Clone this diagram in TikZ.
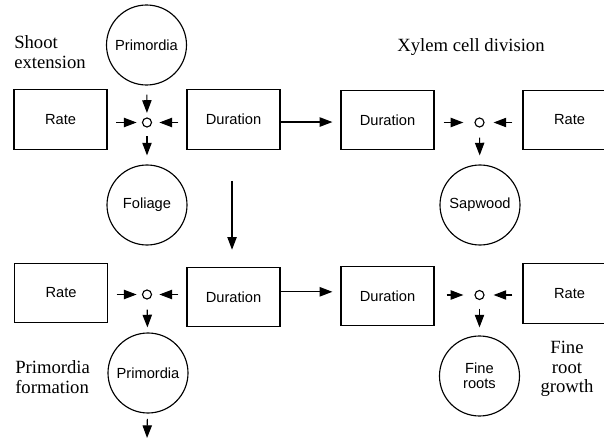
\documentclass[tikz,border=0pt]{standalone}
\usepackage{fontspec}
\setmainfont{Liberation Serif}
\setsansfont{Liberation Sans}
\usetikzlibrary{arrows.meta}
\begin{document}
\begin{tikzpicture}[x=0.75pt,y=-0.75pt,
  boxnode/.style={draw,line width=0.9pt,minimum width=69.75pt,minimum height=44.5pt,inner sep=0pt,font=\sffamily\fontsize{11}{13}\selectfont},
  pool/.style={draw,circle,line width=0.85pt,minimum size=60pt,inner sep=0pt,align=center,font=\sffamily\fontsize{11}{12.5}\selectfont},
  junc/.style={draw,circle,line width=0.85pt,minimum size=6.75pt,inner sep=0pt},
  note/.style={font=\rmfamily\fontsize{14}{14.5}\selectfont,inner sep=0pt},
  arr/.style={line width=0.85pt,-{Triangle[length=9.5pt,width=7pt]}},
]
\clip (0,0) rectangle (604,442);
% ---- top row
\node[boxnode] (rTL) at (60.5,119.5) {Rate};
\node[boxnode] (dTL) at (233.5,119.5) {Duration};
\node[boxnode] (dTR) at (387.5,120) {Duration};
\node[boxnode] (rTR) at (569.5,120) {Rate};
\node[pool] (prim1) at (146.5,45) {Primordia};
\node[pool] (fol) at (147,205) {Foliage};
\node[pool] (sap) at (480,205) {Sapwood};
\node[junc] (j1) at (147,122.5) {};
\node[junc] (j2) at (479.5,122.5) {};
% ---- bottom row
\node[boxnode] (rBL) at (61,293) {Rate};
\node[boxnode] (dBL) at (233.5,297) {Duration};
\node[boxnode] (dBR) at (387.5,296) {Duration};
\node[boxnode] (rBR) at (569.5,293.5) {Rate};
\node[pool] (prim2) at (148,373) {Primordia};
\node[pool] (fine) at (479.5,376) {Fine\\[-1pt]roots};
\node[junc] (j3) at (147,294.5) {};
\node[junc] (j4) at (479.5,295) {};
\coordinate (out) at (147,442);
% ---- notes
\node[note,anchor=west,align=left] (n1) at (14,52) {Shoot\\extension};
\node[note] (n2) at (471,47) {Xylem cell division};
\node[note,anchor=west,align=left] (n3) at (15,377) {Primordia\\formation};
\node[note,align=center] (n4) at (567,369) {Fine\\root\\growth};
% ---- connectors, group 1
\draw[arr,shorten <=6.75pt,shorten >=3.4pt] (prim1) -- (j1);
\draw[arr,shorten <=6.4pt,shorten >=4pt] (rTL.east |- j1) -- (j1);
\draw[arr,shorten <=6pt,shorten >=5.5pt] (dTL.west |- j1) -- (j1);
\draw[arr,shorten <=6.4pt,shorten >=6.75pt] (j1) -- (fol);
% ---- group 2
\draw[arr,shorten <=6.75pt,shorten >=8.3pt] (dTR.east |- j2) -- (j2);
\draw[arr,shorten <=7.5pt,shorten >=6.75pt] (rTR.west |- j2) -- (j2);
\draw[arr,shorten <=7.5pt,shorten >=6.75pt] (j2) -- (sap);
% ---- group 3
\draw[arr,shorten <=6.4pt,shorten >=4pt] (rBL.east |- j3) -- (j3);
\draw[arr,shorten <=6pt,shorten >=5.5pt] (dBL.west |- j3) -- (j3);
\draw[arr,shorten <=7.5pt,shorten >=3.75pt] (j3) -- (prim2);
\draw[arr,shorten <=4pt,shorten >=3pt] (prim2) -- (out);
% ---- group 4
\draw[arr,shorten <=9pt,shorten >=8.3pt] (dBR.east |- j4) -- (j4);
\draw[arr,shorten <=7.5pt,shorten >=6.75pt] (rBR.west |- j4) -- (j4);
\draw[arr,shorten <=6.4pt,shorten >=6pt] (j4) -- (fine);
% ---- links between processes
\draw[arr,shorten >=6pt] ([yshift=-1.9pt]dTL.east) -- ([yshift=-1.9pt]dTL.east -| dTR.west);
\draw[arr,shorten >=6pt] ([yshift=3.9pt]dBL.east) -- ([yshift=3.9pt]dBL.east -| dBR.west);
\draw[arr,shorten <=23.25pt,shorten >=12.75pt] ([xshift=-1.1pt]dTL.south) -- ([xshift=-1.1pt]dBL.north);
\end{tikzpicture}
\end{document}
